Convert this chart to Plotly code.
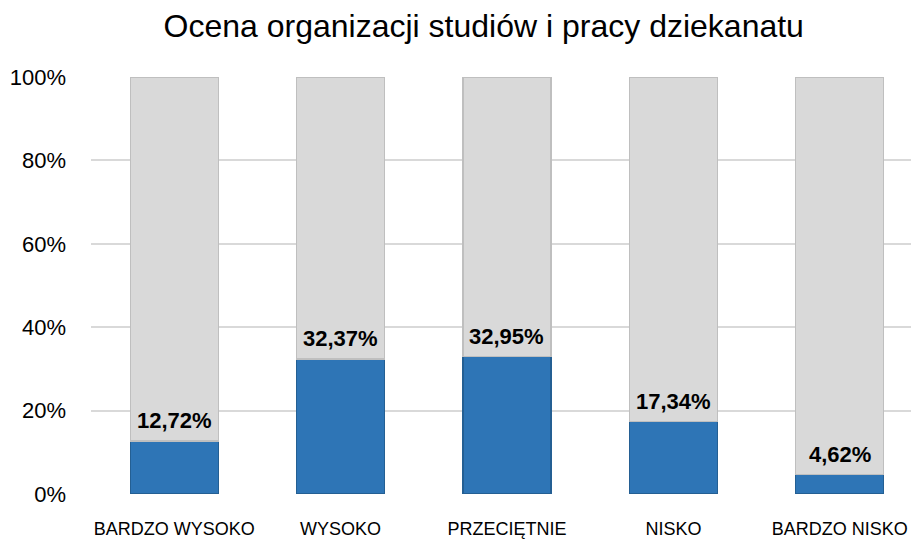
import plotly.graph_objects as go

categories = ["BARDZO WYSOKO", "WYSOKO", "PRZECIĘTNIE", "NISKO", "BARDZO NISKO"]
values = [12.72, 32.37, 32.95, 17.34, 4.62]
value_labels = ["12,72%", "32,37%", "32,95%", "17,34%", "4,62%"]
tick_vals = [0, 20, 40, 60, 80, 100]
tick_text = ["0%", "20%", "40%", "60%", "80%", "100%"]

rest = [100 - v for v in values]
xs = list(range(len(categories)))

fig = go.Figure()
fig.add_trace(go.Bar(x=xs, y=values, width=0.53, marker=dict(color="#2E75B6", line=dict(color="#245F93", width=1.2)), hoverinfo="skip"))
fig.add_trace(go.Bar(x=xs, y=rest, width=0.53, marker=dict(color="#D9D9D9", line=dict(color="#BFBFBF", width=1.2)), hoverinfo="skip"))

for i, (v, t) in enumerate(zip(values, value_labels)):
    fig.add_annotation(x=i, y=v, text="<b>" + t + "</b>", showarrow=False, yanchor="bottom", yshift=6,
                       font=dict(family="Liberation Sans, Arial", size=22, color="#000000"))

fig.update_layout(
    barmode="stack",
    width=911, height=539,
    paper_bgcolor="white", plot_bgcolor="white",
    showlegend=False,
    margin=dict(l=91, r=0, t=77, b=42),
    title=dict(text="Ocena organizacji studiów i pracy dziekanatu", x=0.531, xanchor="center", y=0.953, yanchor="middle",
               font=dict(family="Liberation Sans, Arial", size=32, color="#000000")),
    xaxis=dict(range=[-0.5, 4.428], tickmode="array", tickvals=xs, ticktext=categories, showgrid=False,
               zeroline=False, showline=False, ticks="", ticklabelstandoff=22, ticklabeloverflow="allow",
               tickangle=0,
               tickfont=dict(family="Liberation Sans, Arial", size=18, color="#000000")),
    yaxis=dict(range=[0, 100], tickmode="array", tickvals=tick_vals, ticktext=tick_text, showgrid=True,
               gridcolor="#D9D9D9", gridwidth=1.5, zeroline=False, showline=False, ticks="",
               ticklabelstandoff=24,
               tickfont=dict(family="Liberation Sans, Arial", size=22, color="#000000")),
)

fig.write_html("out.html", config={"displayModeBar": False},
               post_script="document.body.style.margin='0';document.body.style.overflow='hidden';")
